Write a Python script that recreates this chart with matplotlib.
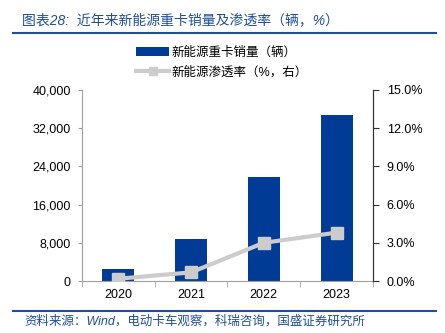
import matplotlib.pyplot as plt
import numpy as np

plt.rcParams['font.family'] = ['Liberation Sans', 'Noto Sans CJK SC', 'DejaVu Sans']

# data
years = ['2020', '2021', '2022', '2023']
sales = [2500, 8700, 21850, 34760]          # 新能源重卡销量（辆）
penetration = [0.18, 0.68, 3.0, 3.8]        # 渗透率 %

bar_color = '#003C96'
line_color = '#CCCCCC'
title_color = '#1F4E9A'

fig = plt.figure(figsize=(4.45, 3.33), dpi=100)
ax = fig.add_axes([0.184, 0.156, 0.654, 0.574])
ax2 = ax.twinx()

x = np.arange(len(years))
b = ax.bar(x, sales, width=0.44, color=bar_color, label='新能源重卡销量（辆）', zorder=2)
l, = ax2.plot(x, penetration, color=line_color, lw=3, marker='s', markersize=8.5,
              label='新能源渗透率（%，右）', zorder=3)

ax.set_xlim(-0.5, 3.5)
ax.set_ylim(0, 40000)
ax.set_yticks(np.arange(0, 40001, 8000))
ax.set_yticklabels([f'{v:,}' for v in range(0, 40001, 8000)])
ax2.set_ylim(0, 15)
ax2.set_yticks(np.arange(0, 15.1, 3))
ax2.set_yticklabels([f'{v:.1f}%' for v in np.arange(0, 15.1, 3)])

ax.set_xticks(x)
ax.set_xticklabels(years)
ax.set_xticks(np.arange(-0.5, 3.6, 1), minor=True)
ax.tick_params(axis='x', which='major', length=0, labelsize=9, pad=6)
ax.tick_params(axis='x', which='minor', length=4, color='#A0A0A0', direction='out')
ax.tick_params(axis='y', length=3, color='#A0A0A0', labelsize=9, pad=5)
ax2.tick_params(axis='y', length=4, color='#333333', labelsize=9, pad=6)

ax.spines['top'].set_visible(False)
ax2.spines['top'].set_visible(False)
ax.spines['left'].set_color('#A0A0A0')
ax.spines['bottom'].set_color('#A0A0A0')
ax2.spines['left'].set_visible(False)
ax2.spines['bottom'].set_visible(False)
ax2.spines['right'].set_color('#333333')

fig.legend([b, l], ['新能源重卡销量（辆）', '新能源渗透率（%，右）'],
           loc='upper left', bbox_to_anchor=(0.295, 0.876), frameon=False,
           fontsize=9, handlelength=2.6, handletextpad=0.2, labelspacing=0.6,
           borderaxespad=0, markerscale=0.75)

# title and source
fig.text(0.05, 0.94, '图表28:  近年来新能源重卡销量及渗透率（辆，%）', color=title_color,
         fontsize=10, va='center', ha='left', style='italic')
fig.add_artist(plt.Line2D([0.03, 0.98], [0.90, 0.90], color=title_color, lw=1.5))
fig.add_artist(plt.Line2D([0.03, 0.98], [0.066, 0.066], color=title_color, lw=1.5))
fig.text(0.055, 0.035, '资料来源：Wind，电动卡车观察，科瑞咨询，国盛证券研究所', color=title_color,
         fontsize=9, va='center', ha='left', style='italic')

fig.savefig('out.png', dpi=100)
